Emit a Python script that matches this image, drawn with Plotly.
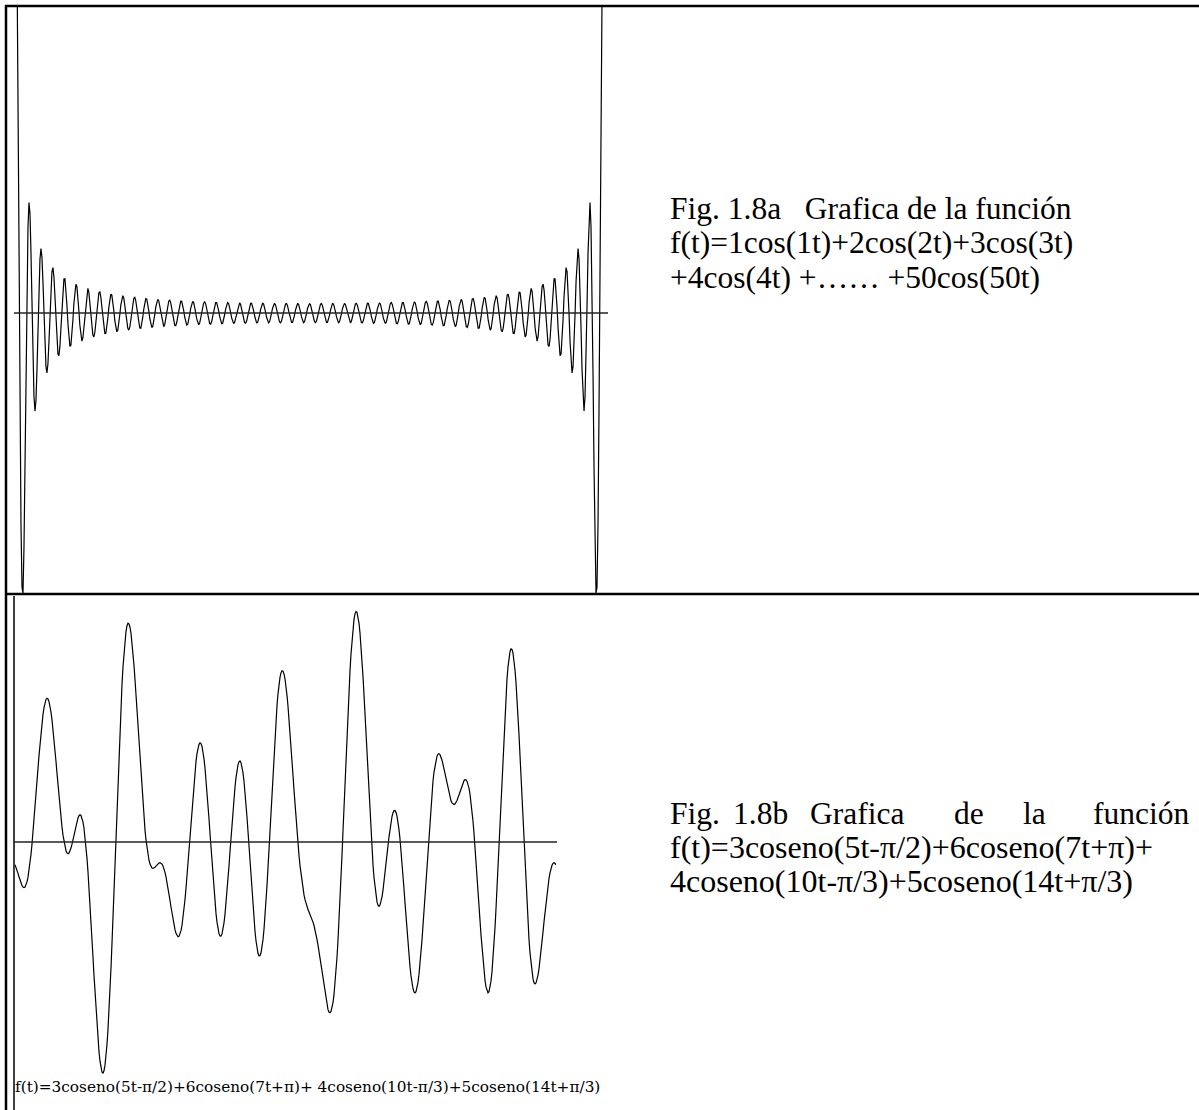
import numpy as np
import plotly.graph_objects as go

W, H = 1199, 1110

# ---- data: Fig 1.8a  f(t) = sum k cos(k t), k = 1..50
amps_a = [1, 2, 3, 4, 5, 6, 7, 8, 9, 10, 11, 12, 13, 14, 15, 16, 17, 18, 19, 20,
          21, 22, 23, 24, 25, 26, 27, 28, 29, 30, 31, 32, 33, 34, 35, 36, 37, 38, 39, 40,
          41, 42, 43, 44, 45, 46, 47, 48, 49, 50]
freqs_a = [1, 2, 3, 4, 5, 6, 7, 8, 9, 10, 11, 12, 13, 14, 15, 16, 17, 18, 19, 20,
           21, 22, 23, 24, 25, 26, 27, 28, 29, 30, 31, 32, 33, 34, 35, 36, 37, 38, 39, 40,
           41, 42, 43, 44, 45, 46, 47, 48, 49, 50]
phases_a = [0.0] * 50

# ---- data: Fig 1.8b
amps_b = [3, 6, 4, 5]
freqs_b = [5, 7, 10, 14]
phases_b = [-np.pi / 2, np.pi, -np.pi / 3, np.pi / 3]

t_a = np.linspace(0, 2 * np.pi, 591)
t_b = np.linspace(0, 2 * np.pi, 542)


def series(t, amps, freqs, phases):
    return sum(a * np.cos(f * t + p) for a, f, p in zip(amps, freqs, phases))


y_a = series(t_a, amps_a, freqs_a, phases_a)
y_b = series(t_b, amps_b, freqs_b, phases_b)


def px(x):
    return x / W


def py(y):
    return 1 - y / H


# pixel layout
A_X0, A_X1, A_Y0, A_Y1, A_ZERO, A_SCALE = 15, 604, 6, 594, 313, 0.38
B_X0, B_X1, B_Y0, B_Y1, B_ZERO, B_SCALE = 15, 556, 596, 1110, 842, 15.2

fig = go.Figure()
fig.add_trace(go.Scatter(x=t_a, y=y_a, mode="lines", line=dict(color="black", width=1.2),
                         xaxis="x", yaxis="y", showlegend=False, hoverinfo="skip"))
fig.add_trace(go.Scatter(x=t_b, y=y_b, mode="lines", line=dict(color="black", width=1.2),
                         xaxis="x2", yaxis="y2", showlegend=False, hoverinfo="skip"))

ax_common = dict(showgrid=False, zeroline=False, showline=False, showticklabels=False,
                 ticks="", fixedrange=True)

fig.update_layout(
    width=W, height=H,
    margin=dict(l=0, r=0, t=0, b=0),
    paper_bgcolor="white", plot_bgcolor="rgba(0,0,0,0)",
    xaxis=dict(domain=[px(A_X0), px(A_X1)], range=[0, 2 * np.pi], anchor="y", **ax_common),
    yaxis=dict(domain=[py(A_Y1), py(A_Y0)],
               range=[-(A_Y1 - A_ZERO) / A_SCALE, (A_ZERO - A_Y0) / A_SCALE],
               anchor="x", **ax_common),
    xaxis2=dict(domain=[px(B_X0), px(B_X1)], range=[0, 2 * np.pi], anchor="y2", **ax_common),
    yaxis2=dict(domain=[py(B_Y1), py(B_Y0)],
                range=[-(B_Y1 - B_ZERO) / B_SCALE, (B_ZERO - B_Y0) / B_SCALE],
                anchor="x2", **ax_common),
)

shapes = []


def line(x0, y0, x1, y1, w=2, c="black"):
    shapes.append(dict(type="line", xref="paper", yref="paper",
                       x0=px(x0), y0=py(y0), x1=px(x1), y1=py(y1),
                       line=dict(color=c, width=w)))


# table borders
line(5, 6, W, 6, 2.5)
line(6, 5, 6, H, 2.5)
line(5, 594, W, 594, 2.5)
# frame of lower picture
line(14, 596, 14, H, 1.5)
# horizontal axes
line(14, A_ZERO, 608, A_ZERO, 1.5, "#222")
line(14, B_ZERO, 557, B_ZERO, 1.5, "#222")
fig.update_layout(shapes=shapes)

SERIF = "Liberation Serif, Times New Roman, serif"
FS = 31.5
ann = []


def text(x, y, s, size=FS, xanchor="left", family=SERIF):
    ann.append(dict(xref="paper", yref="paper", x=px(x), y=py(y), text=s,
                    showarrow=False, xanchor=xanchor, yanchor="middle",
                    font=dict(family=family, size=size, color="black")))


# caption a
text(668, 209, "Fig. 1.8a&nbsp;&nbsp;&nbsp;Grafica de la función")
text(668, 243, "f(t)=1cos(1t)+2cos(2t)+3cos(3t)")
text(668, 277, "+4cos(4t) +…… +50cos(50t)")

# caption b (justified first line)
yb1 = 813
text(668, yb1, "Fig.")
text(760, yb1, "1.8b", xanchor="center")
text(857, yb1, "Grafica", xanchor="center")
text(969, yb1, "de", xanchor="center")
text(1034, yb1, "la", xanchor="center")
text(1191, yb1, "función", xanchor="right")
text(668, 847, "f(t)=3coseno(5t-π/2)+6coseno(7t+π)+", size=32)
text(668, 881, "4coseno(10t-π/3)+5coseno(14t+π/3)", size=32)

# label inside lower picture
text(13, 1087, "f(t)=3coseno(5t-π/2)+6coseno(7t+π)+ 4coseno(10t-π/3)+5coseno(14t+π/3)",
     size=15.3, family="DejaVu Serif, serif")

fig.update_layout(annotations=ann)

fig.write_html("out.html", config={"displayModeBar": False},
               post_script="document.body.style.margin='0';")
